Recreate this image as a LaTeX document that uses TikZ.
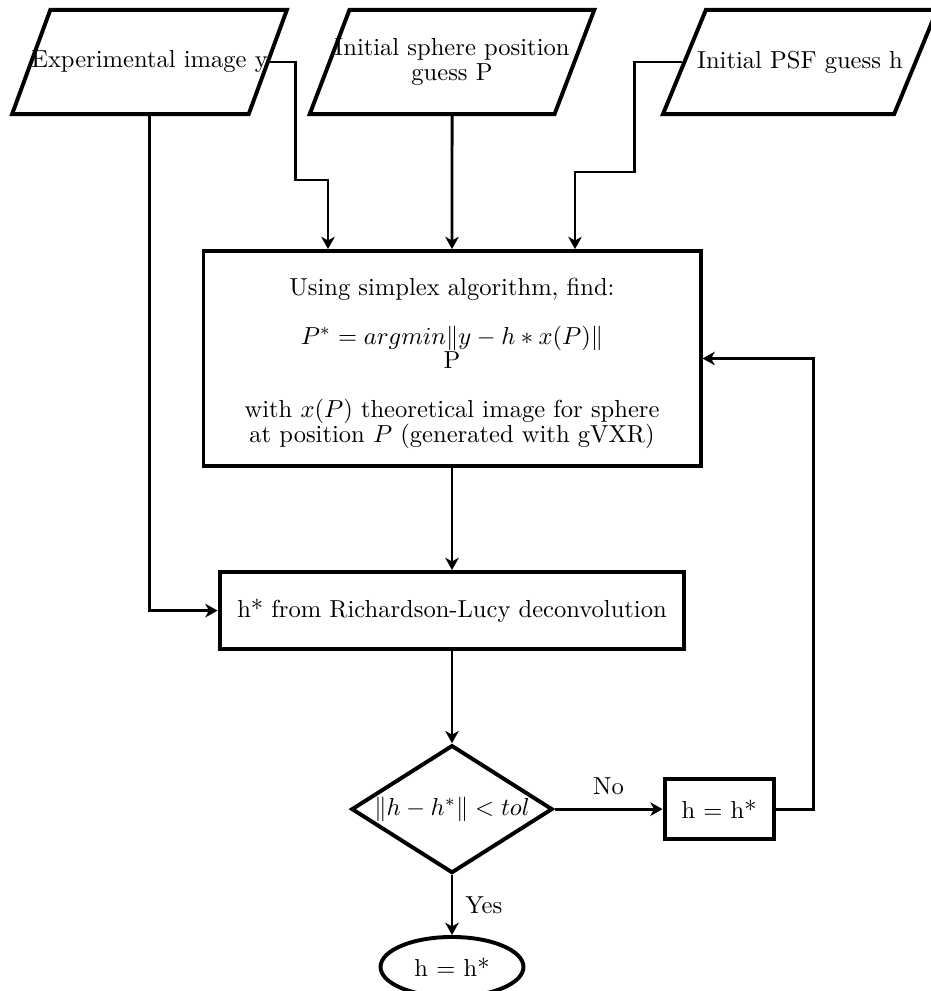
\documentclass[tikz,border=0pt]{standalone}
\usepackage{amsmath,amssymb}
\usepackage{xcolor}
\usepackage{tikz}
\usetikzlibrary{positioning,shapes.geometric,arrows.meta}

\begin{document}
\begin{tikzpicture}[x=0.4072pt, y=-0.4072pt, font=\fontsize{10}{10}\selectfont,
io/.style={trapezium,trapezium left angle=70,trapezium right angle=110,trapezium stretches=true,draw,ultra thick,inner xsep=-8pt,inner ysep=16.7pt,minimum width=112pt,align=center},
process/.style={rectangle,draw,ultra thick,align=center},
choice/.style={diamond,draw,ultra thick,aspect=1.6,inner sep=0.5pt,minimum width=80.6pt,minimum height=52.1pt},
terminal/.style={ellipse,draw,ultra thick,minimum width=58.2pt,minimum height=24.4pt},
paths/.style={->, very thick, -{Stealth[length=5pt,width=5.5pt,inset=1.5pt]}}
]
\useasboundingbox (0,0) rectangle (930,991);

%create nodes
\node[io] (expimg) at (149.5,62) {Experimental image y};
\node[io, minimum width=116pt, inner ysep=11.7pt] (initpos) at (452,62) {Initial sphere position\\ guess P};
\node[io] (initpsf) at (800,62) {Initial PSF guess h};

\node[process, minimum width=202.4pt, minimum height=87.5pt] (simplex) at (452,358.5) {\rule{0pt}{10.9pt}Using simplex algorithm, find:\\[10pt] $P^* = argmin\|y-h*x(P)\|$\\ P\\[10pt] with $x(P)$ theoretical image for sphere\\ at position $P$ (generated with gVXR)};
\node[process, below=41.6pt of simplex, minimum width=189.3pt, minimum height=31.4pt] (rl) {h* from Richardson-Lucy deconvolution};

\node[choice, below=37.5pt of rl] (decision) {$\|h-h^*\|<tol$};
\node[process, right=44pt of decision, minimum width=44.4pt, minimum height=24.4pt] (update) {h = h*};
\node[terminal, below=24.4pt of decision] (stop) {h = h*};

%draw paths
\draw[paths] (expimg.east) -- ++(26,0) -- ++(0,118) -| (simplex.north -| 328,0);
\draw[paths] (initpos.south) -- (simplex.north);
\draw[paths] (initpsf.west) -- ++(-48,0) -- ++(0,110) -| (simplex.north -| 575,0);

\draw[paths] (simplex.south) -- (rl.north);
\draw[paths] (expimg.south) |- (rl.west);
\draw[paths] (rl.south) -- (decision.north);

%loop back
\draw[paths] (decision.east) -- node[above=2pt] {No} (update.west);
\draw[paths] (update.east) -- ++(38,0) |- (simplex.east);
\draw[paths] (decision.south) -- node[right=1.5pt] {Yes} (stop.north);

\end{tikzpicture}
\end{document}
